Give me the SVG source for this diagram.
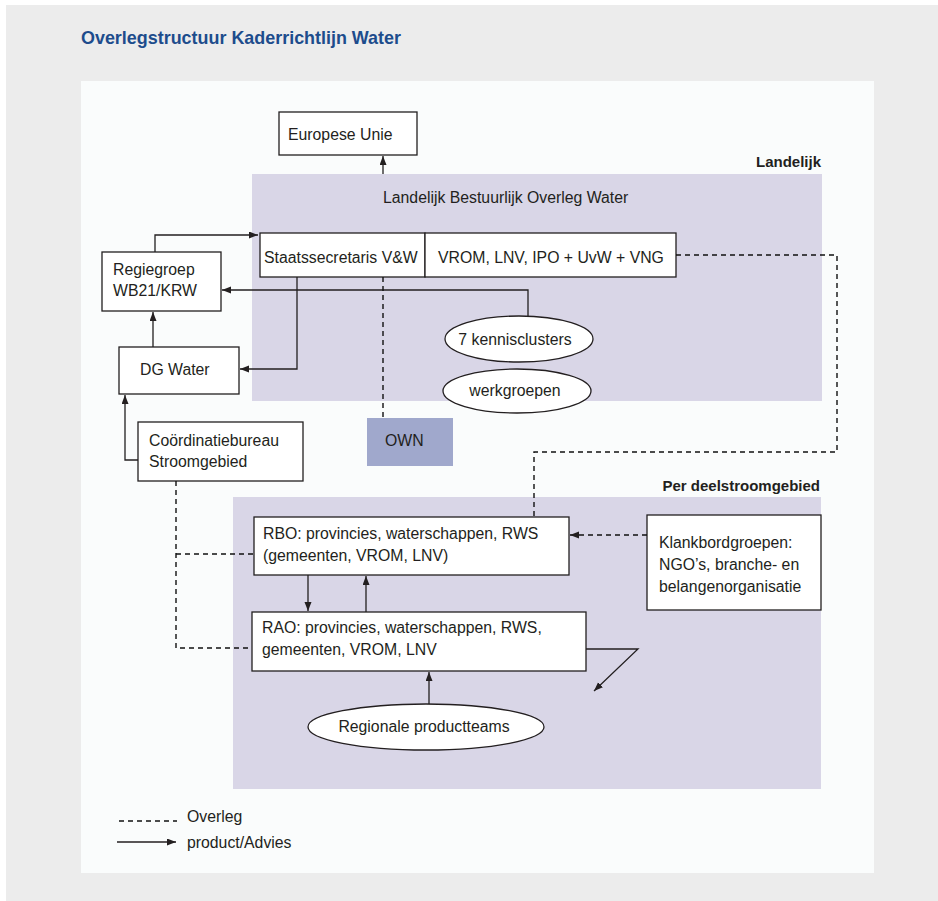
<svg xmlns="http://www.w3.org/2000/svg" width="938" height="901" viewBox="0 0 938 901">
<defs>
<marker id="ah" markerUnits="userSpaceOnUse" markerWidth="10" markerHeight="8" refX="9" refY="3.5" orient="auto">
<path d="M0,0 L9,3.5 L0,7 z" fill="#231f20"/>
</marker>
<style>
.t{font-family:"Liberation Sans",Arial,sans-serif;font-size:15.8px;fill:#231f20}
.b{font-family:"Liberation Sans",Arial,sans-serif;font-size:15px;font-weight:bold;fill:#231f20}
.box{fill:#ffffff;stroke:#231f20;stroke-width:1.3}
.ln{fill:none;stroke:#231f20;stroke-width:1.3}
.ds{fill:none;stroke:#111111;stroke-width:1.4;stroke-dasharray:5,4}
.panel{fill:#d9d6e7}
</style>
</defs>
<rect x="0" y="0" width="938" height="901" fill="#ffffff"/>
<rect x="6" y="5" width="932" height="896" fill="#ececec"/>
<rect x="81" y="81" width="793" height="792" fill="#fafcfc"/>
<text x="81" y="44" font-family="'Liberation Sans',Arial,sans-serif" font-size="19" font-weight="bold" fill="#1d4c8c" textLength="320" lengthAdjust="spacingAndGlyphs">Overlegstructuur Kaderrichtlijn Water</text>

<g id="panel-landelijk">
<rect class="panel" x="252" y="174" width="570" height="227"/>
<text class="b" x="821" y="167" text-anchor="end">Landelijk</text>
<text class="t" x="383" y="203">Landelijk Bestuurlijk Overleg Water</text>
</g>
<g id="panel-deelstroom">
<rect class="panel" x="233" y="497" width="588" height="292"/>
<text class="b" x="820" y="491" text-anchor="end">Per deelstroomgebied</text>
</g>

<g id="europese-unie">
<rect class="box" x="279" y="112" width="138" height="43"/>
<text class="t" x="288" y="140">Europese Unie</text>
</g>
<g id="staatssecretaris">
<rect class="box" x="260" y="233" width="165" height="44"/>
<text class="t" x="264" y="263">Staatssecretaris V&amp;W</text>
</g>
<g id="vrom">
<rect class="box" x="425" y="233" width="251" height="44"/>
<text class="t" x="438" y="263">VROM, LNV, IPO + UvW + VNG</text>
</g>
<g id="regiegroep">
<rect class="box" x="102" y="252" width="119" height="59"/>
<text class="t" x="113" y="275">Regiegroep</text>
<text class="t" x="113" y="296">WB21/KRW</text>
</g>
<g id="dg-water">
<rect class="box" x="119" y="347" width="120" height="47"/>
<text class="t" x="140" y="375">DG Water</text>
</g>
<g id="coordinatiebureau">
<rect class="box" x="138" y="422" width="165" height="59"/>
<text class="t" x="149" y="446">Coördinatiebureau</text>
<text class="t" x="149" y="467">Stroomgebied</text>
</g>
<g id="own">
<rect x="367" y="418" width="86" height="48" fill="#a0a8cc"/>
<text class="t" x="385" y="446">OWN</text>
</g>
<g id="kennisclusters">
<ellipse class="box" cx="519" cy="339" rx="74" ry="23"/>
<text class="t" x="515" y="345" text-anchor="middle">7 kennisclusters</text>
</g>
<g id="werkgroepen">
<ellipse class="box" cx="517" cy="391" rx="74" ry="22"/>
<text class="t" x="515" y="396" text-anchor="middle">werkgroepen</text>
</g>
<g id="rbo">
<rect class="box" x="254" y="517" width="315" height="58"/>
<text class="t" x="263" y="539">RBO: provincies, waterschappen, RWS</text>
<text class="t" x="263" y="561">(gemeenten, VROM, LNV)</text>
</g>
<g id="rao">
<rect class="box" x="252" y="612" width="334" height="59"/>
<text class="t" x="262" y="633">RAO: provincies, waterschappen, RWS,</text>
<text class="t" x="262" y="655">gemeenten, VROM, LNV</text>
</g>
<g id="klankbordgroepen">
<rect class="box" x="647" y="515" width="174" height="95"/>
<text class="t" x="659" y="548">Klankbordgroepen:</text>
<text class="t" x="659" y="570">NGO’s, branche- en</text>
<text class="t" x="659" y="592">belangenorganisatie</text>
</g>
<g id="regionale-productteams">
<ellipse class="box" cx="426" cy="727" rx="118" ry="23"/>
<text class="t" x="424" y="732" text-anchor="middle">Regionale productteams</text>
</g>

<g id="connectors">
<path class="ln" d="M383,174 V156" marker-end="url(#ah)"/>
<path class="ln" d="M155,252 V235 H258" marker-end="url(#ah)"/>
<path class="ln" d="M528,316 V290 H222" marker-end="url(#ah)"/>
<path class="ln" d="M297,277 V369 H240" marker-end="url(#ah)"/>
<path class="ln" d="M153,347 V312" marker-end="url(#ah)"/>
<path class="ln" d="M138,460 H125 V395" marker-end="url(#ah)"/>
<path class="ds" d="M383,277 V418"/>
<path class="ds" d="M676,255 H837 V452 H534 V517"/>
<path class="ds" d="M176,481 V648 H252"/>
<path class="ds" d="M176,554 H254"/>
<path class="ds" d="M647,535 H570" marker-end="url(#ah)"/>
<path class="ln" d="M308,575 V611" marker-end="url(#ah)"/>
<path class="ln" d="M366,612 V576" marker-end="url(#ah)"/>
<path class="ln" d="M429,704 V672" marker-end="url(#ah)"/>
<path class="ln" d="M586,649 H638 L594,691" marker-end="url(#ah)"/>
</g>

<g id="legend">
<path class="ds" d="M119,821 H177"/>
<text class="t" x="187" y="822">Overleg</text>
<path class="ln" d="M117,842 H176" marker-end="url(#ah)"/>
<text class="t" x="187" y="848">product/Advies</text>
</g>
</svg>
